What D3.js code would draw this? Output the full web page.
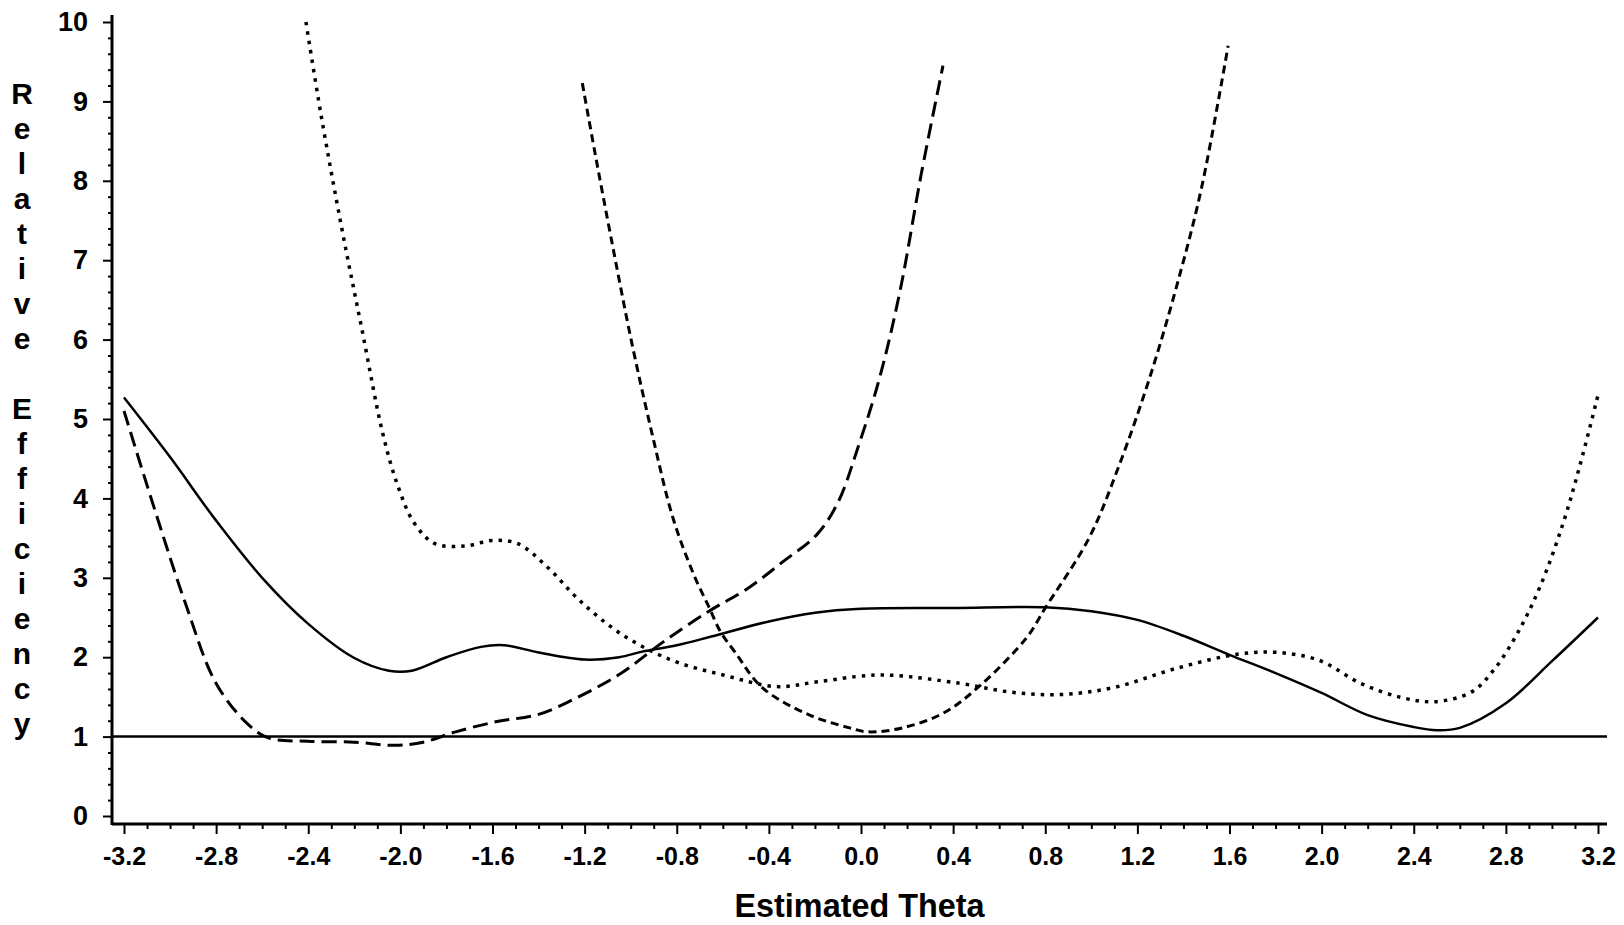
<!DOCTYPE html>
<html>
<head>
<meta charset="utf-8">
<script src="https://cdn.jsdelivr.net/npm/d3@7"></script>
<style>
  body { margin: 0; background: #fff; }
  svg { display: block; }
  text { font-family: "Liberation Sans", Arial, sans-serif; font-weight: bold; fill: #000; }
</style>
</head>
<body>
<div id="chart"></div>
<script>
// ---- data
var xTicks = [-3.2, -2.8, -2.4, -2.0, -1.6, -1.2, -0.8, -0.4, 0.0, 0.4, 0.8, 1.2, 1.6, 2.0, 2.4, 2.8, 3.2];
var xTickLabels = ["-3.2", "-2.8", "-2.4", "-2.0", "-1.6", "-1.2", "-0.8", "-0.4", "0.0", "0.4", "0.8", "1.2", "1.6", "2.0", "2.4", "2.8", "3.2"];
var yTicks = [0, 1, 2, 3, 4, 5, 6, 7, 8, 9, 10];
var yTickLabels = ["0", "1", "2", "3", "4", "5", "6", "7", "8", "9", "10"];
var refLevel = 1;

// solid curve
var solidTheta = [-3.2, -3.0, -2.8, -2.6, -2.4, -2.2, -2.05, -1.95, -1.8, -1.65, -1.55, -1.4, -1.2, -1.05, -0.95, -0.8, -0.65, -0.4, -0.2, 0.0, 0.4, 0.8, 1.0, 1.2, 1.4, 1.6, 1.8, 2.0, 2.2, 2.4, 2.5, 2.6, 2.8, 3.0, 3.2];
var solidEff   = [5.27, 4.52, 3.72, 3.0, 2.42, 1.99, 1.83, 1.83, 2.0, 2.13, 2.15, 2.06, 1.97, 2.0, 2.07, 2.15, 2.26, 2.45, 2.56, 2.61, 2.62, 2.63, 2.58, 2.47, 2.27, 2.03, 1.8, 1.55, 1.27, 1.12, 1.08, 1.11, 1.42, 1.95, 2.5];

// long dashed curve
var longTheta = [-3.2, -3.07, -2.93, -2.8, -2.66, -2.57, -2.4, -2.2, -2.03, -1.9, -1.76, -1.58, -1.4, -1.22, -1.04, -0.86, -0.66, -0.5, -0.34, -0.19, -0.1, -0.01, 0.08, 0.17, 0.26, 0.356];
var longEff   = [5.1, 3.89, 2.65, 1.67, 1.15, 0.98, 0.94, 0.93, 0.89, 0.93, 1.06, 1.19, 1.28, 1.51, 1.8, 2.19, 2.58, 2.85, 3.2, 3.55, 3.95, 4.67, 5.51, 6.62, 8.06, 9.45];

// dotted curve
var dotTheta = [-2.41, -2.345, -2.255, -2.165, -2.075, -2.01, -1.94, -1.85, -1.72, -1.6, -1.49, -1.36, -1.22, -1.04, -0.82, -0.59, -0.37, -0.19, 0.03, 0.15, 0.43, 0.65, 0.87, 1.1, 1.37, 1.64, 1.81, 1.99, 2.17, 2.35, 2.49, 2.65, 2.75, 2.85, 2.95, 3.05, 3.12, 3.2];
var dotEff   = [10.0, 8.84, 7.41, 6.1, 4.8, 4.15, 3.69, 3.43, 3.4, 3.47, 3.43, 3.13, 2.71, 2.29, 1.96, 1.77, 1.63, 1.69, 1.77, 1.77, 1.67, 1.56, 1.53, 1.62, 1.86, 2.04, 2.06, 1.96, 1.67, 1.49, 1.44, 1.56, 1.85, 2.3, 2.9, 3.7, 4.4, 5.3];

// short dashed curve
var shortTheta = [-1.21, -1.153, -1.085, -0.996, -0.906, -0.816, -0.726, -0.66, -0.61, -0.546, -0.43, -0.23, -0.05, 0.03, 0.18, 0.36, 0.52, 0.72, 0.8, 0.99, 1.12, 1.26, 1.39, 1.48, 1.594];
var shortEff   = [9.23, 8.32, 7.28, 5.97, 4.8, 3.75, 3.04, 2.63, 2.32, 2.06, 1.62, 1.28, 1.11, 1.06, 1.11, 1.3, 1.65, 2.25, 2.62, 3.5, 4.41, 5.58, 6.88, 7.93, 9.7];

// ---- layout
var W = 1624, H = 925;
var box = {left: 112, right: 1607, top: 15, bottom: 824};

var svg = d3.select("#chart")
    .append("svg")
      .attr("width", W)
      .attr("height", H);

var x = d3.scaleLinear().domain([-3.2, 3.2]).range([124, 1598]);
var y = d3.scaleLinear().domain([0, 10]).range([816, 22]);

// minor tick values
var xMinor = d3.range(-32, 33).map(d => d / 10).filter(d => xTicks.indexOf(d) < 0);
var yMinor = d3.range(0, 51).map(d => d / 5).filter(d => yTicks.indexOf(d) < 0);

// ---- axes
var gx = svg.append("g").attr("transform", "translate(0," + box.bottom + ")");
gx.append("g")
    .call(d3.axisBottom(x).tickValues(xMinor).tickSize(5).tickFormat(""))
    .call(g => g.select(".domain").remove());
gx.append("g")
    .call(d3.axisBottom(x).tickValues(xTicks).tickSize(10).tickPadding(13)
      .tickFormat((d, i) => xTickLabels[i]))
    .call(g => g.select(".domain").remove())
    .call(g => g.selectAll("text").attr("font-size", 25));

var gy = svg.append("g").attr("transform", "translate(" + box.left + ",0)");
gy.append("g")
    .call(d3.axisLeft(y).tickValues(yMinor).tickSize(4).tickFormat(""))
    .call(g => g.select(".domain").remove());
gy.append("g")
    .call(d3.axisLeft(y).tickValues(yTicks).tickSize(9).tickPadding(15)
      .tickFormat((d, i) => yTickLabels[i]))
    .call(g => g.select(".domain").remove())
    .call(g => g.selectAll("text").attr("font-size", 27));

svg.selectAll(".tick line").attr("stroke", "#000").attr("stroke-width", 2);

// axis lines
svg.append("line")
    .attr("x1", box.left).attr("x2", box.right)
    .attr("y1", box.bottom).attr("y2", box.bottom)
    .attr("stroke", "#000").attr("stroke-width", 3);
svg.append("line")
    .attr("x1", box.left).attr("x2", box.left)
    .attr("y1", box.top).attr("y2", box.bottom + 1)
    .attr("stroke", "#000").attr("stroke-width", 3);

// reference line at efficiency 1
svg.append("line")
    .attr("x1", box.left).attr("x2", box.right)
    .attr("y1", y(refLevel)).attr("y2", y(refLevel))
    .attr("stroke", "#000").attr("stroke-width", 2.5);

// ---- curves
var line = d3.line()
    .x(d => x(d[0]))
    .y(d => y(d[1]))
    .curve(d3.curveCatmullRom.alpha(0.5));

var series = [
  {theta: solidTheta, eff: solidEff, dash: null, w: 2.5},
  {theta: longTheta, eff: longEff, dash: "15 7", w: 3},
  {theta: dotTheta, eff: dotEff, dash: "3.5 6", w: 3.5},
  {theta: shortTheta, eff: shortEff, dash: "8 5", w: 3}
];

series.forEach(function(s) {
  svg.append("path")
      .datum(d3.zip(s.theta, s.eff))
      .attr("fill", "none")
      .attr("stroke", "#000")
      .attr("stroke-width", s.w)
      .attr("stroke-dasharray", s.dash)
      .attr("d", line);
});

// ---- titles
svg.append("text")
    .attr("x", (box.left + box.right) / 2)
    .attr("y", 917)
    .attr("text-anchor", "middle")
    .attr("font-size", 34)
    .attr("textLength", 250)
    .attr("lengthAdjust", "spacingAndGlyphs")
    .text("Estimated Theta");

// vertical stacked y title
var yTitle = "Relative Efficiency";
svg.append("text")
    .attr("font-size", 30)
    .attr("text-anchor", "middle")
    .selectAll("tspan")
    .data(yTitle.split(""))
    .join("tspan")
      .attr("x", 22)
      .attr("y", (d, i) => 93 + i * 35)
      .attr("dy", "0.36em")
      .text(d => d);
</script>
</body>
</html>
